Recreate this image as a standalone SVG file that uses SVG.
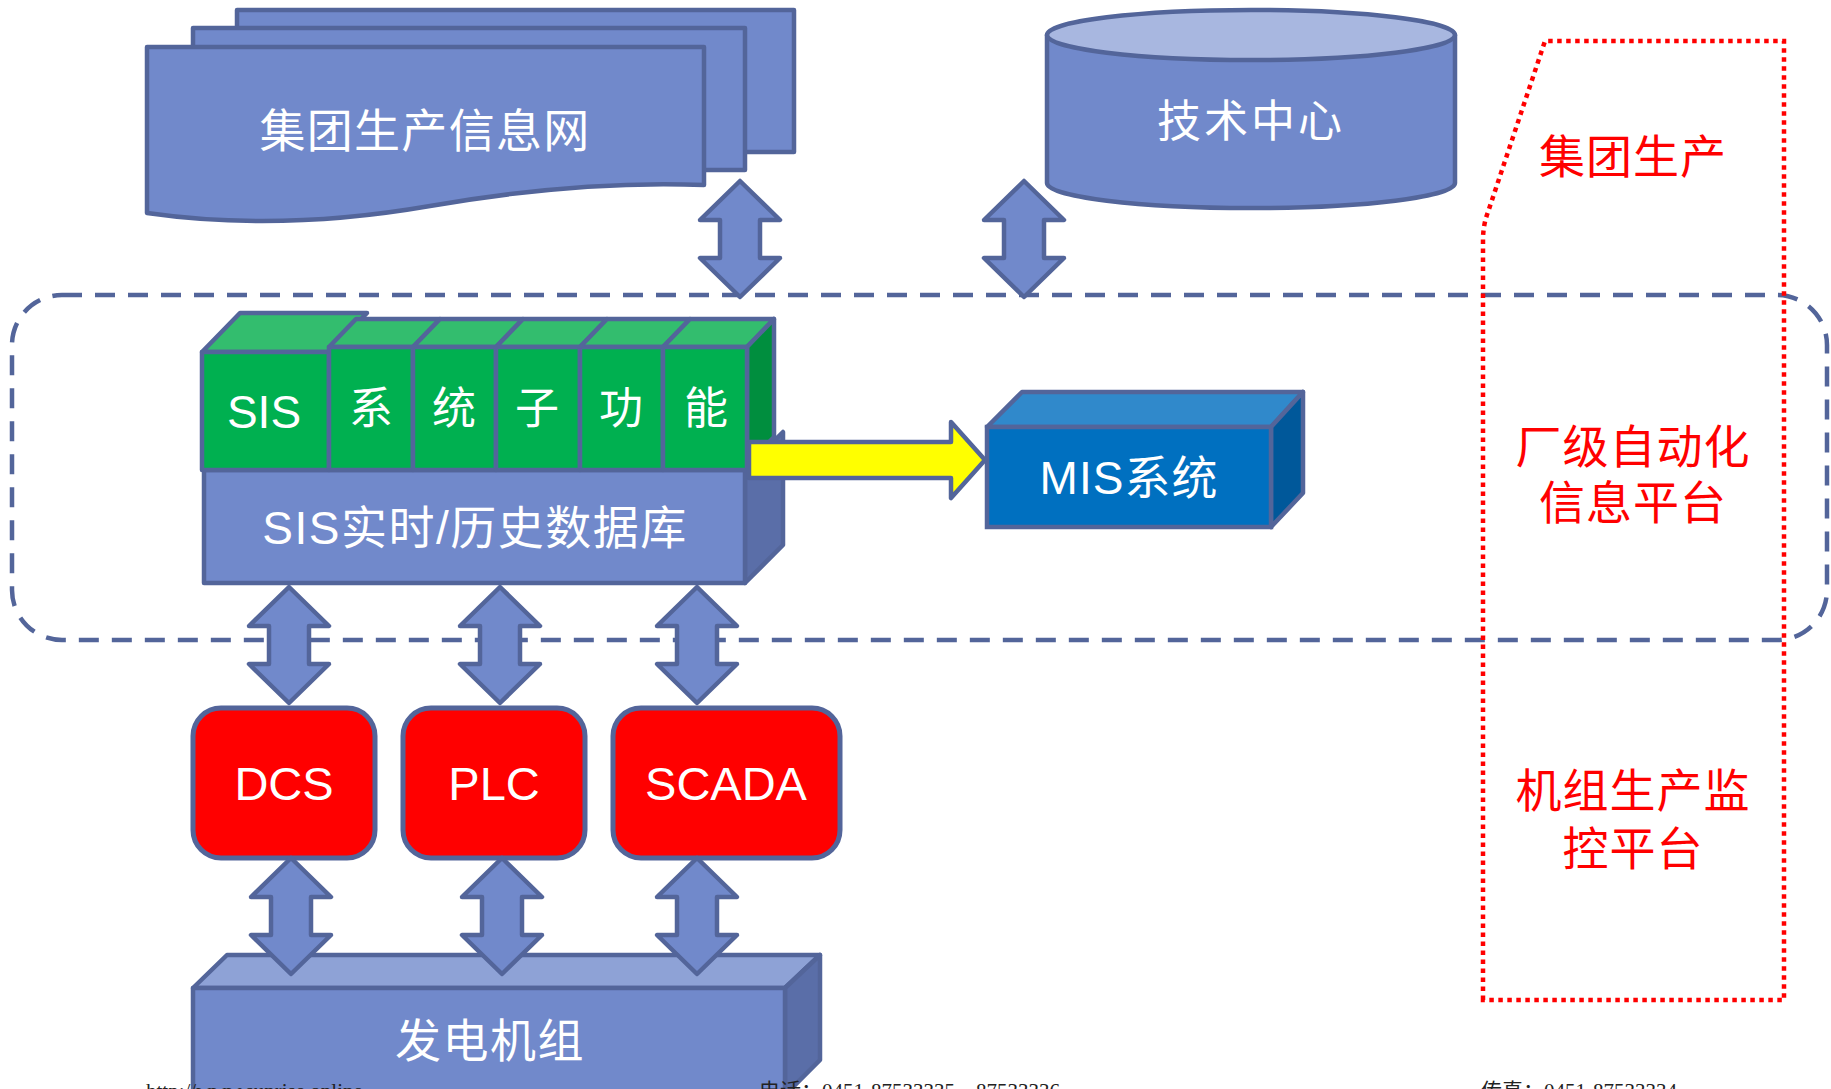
<svg xmlns="http://www.w3.org/2000/svg" width="1831" height="1089" viewBox="0 0 1831 1089">
<style>
.b{fill:#7189CB;stroke:#53659A;stroke-width:4.5;stroke-linejoin:round}
.bt{fill:#8EA2D6;stroke:#53659A;stroke-width:4.5;stroke-linejoin:round}
.bd{fill:#5A6EA8;stroke:#53659A;stroke-width:4.5;stroke-linejoin:round}
.g{fill:#00B050;stroke:#53659A;stroke-width:4.5;stroke-linejoin:round}
.gt{fill:#33BD6E;stroke:#53659A;stroke-width:4.5;stroke-linejoin:round}
.gd{fill:#008E3E;stroke:#53659A;stroke-width:4.5;stroke-linejoin:round}
.r{fill:#FF0000;stroke:#53659A;stroke-width:5}
.w{fill:#FFFFFF;font-family:"Liberation Sans","Noto Sans CJK SC",sans-serif;text-anchor:middle}
.rt{fill:#FF0000;font-family:"Liberation Sans","Noto Sans CJK SC",sans-serif;font-size:46px;text-anchor:middle;letter-spacing:1px}
.f{fill:#222;font-family:"Liberation Serif","Noto Sans CJK SC",serif;font-size:21px}
</style>
<defs>
<path id="dbl" d="M0,0 L40,39 L20,39 L20,77 L40,77 L0,116 L-40,77 L-20,77 L-20,39 L-40,39 Z"/>
</defs>
<rect width="1831" height="1089" fill="#FFFFFF"/>

<g id="plant-frame">
<rect x="12" y="295" width="1815" height="345" rx="50" ry="50" fill="none" stroke="#53659A" stroke-width="4.5" stroke-dasharray="20 13"/>
</g>

<g id="group-info-net">
<rect class="b" x="237" y="10" width="557" height="142"/>
<rect class="b" x="193" y="28" width="552" height="142"/>
<path class="b" d="M147,47 H704 V185 Q580,180 430,206 Q280,232 147,213 Z"/>
<text class="w" x="425" y="147" font-size="46" letter-spacing="1.3">集团生产信息网</text>
</g>

<g id="tech-center">
<path class="b" d="M1047,35 V183 A204,25 0 0 0 1455,183 V35 Z"/>
<ellipse cx="1251" cy="35" rx="204" ry="25" fill="#A8B7E0" stroke="#53659A" stroke-width="4.5"/>
<text class="w" x="1251" y="137" font-size="44" letter-spacing="3">技术中心</text>
</g>

<g id="sis-db">
<polygon class="bd" points="745,470 783,432 783,545 745,583"/>
<rect class="b" x="204" y="470" width="541" height="113"/>
<text class="w" x="475" y="544" font-size="46" letter-spacing="1.5">SIS实时/历史数据库</text>
</g>

<g id="sis-modules">
<polygon class="gt" points="202,352 240,313 367,313 329,352"/>
<rect class="g" x="202" y="352" width="127" height="118"/>
<polygon class="gt" points="329,347 356,319 440,319 413,347"/>
<polygon class="gt" points="413,347 440,319 523,319 496,347"/>
<polygon class="gt" points="496,347 523,319 607,319 580,347"/>
<polygon class="gt" points="580,347 607,319 690,319 663,347"/>
<polygon class="gt" points="663,347 690,319 774,319 747,347"/>
<polygon class="gd" points="747,347 774,319 774,437 747,465"/>
<rect class="g" x="329" y="347" width="84" height="123"/>
<rect class="g" x="413" y="347" width="83" height="123"/>
<rect class="g" x="496" y="347" width="84" height="123"/>
<rect class="g" x="580" y="347" width="83" height="123"/>
<rect class="g" x="663" y="347" width="84" height="123"/>
<text class="w" x="264" y="428" font-size="46">SIS</text>
<text class="w" x="371" y="424" font-size="44">系</text>
<text class="w" x="454" y="424" font-size="44">统</text>
<text class="w" x="537" y="424" font-size="44">子</text>
<text class="w" x="621" y="424" font-size="44">功</text>
<text class="w" x="706" y="424" font-size="44">能</text>
</g>

<g id="mis">
<polygon points="987,427 1022,392 1303,392 1271,427" fill="#3089CB" stroke="#53659A" stroke-width="4.5" stroke-linejoin="round"/>
<polygon points="1271,427 1303,392 1303,493 1271,527" fill="#00589A" stroke="#53659A" stroke-width="4.5" stroke-linejoin="round"/>
<rect x="987" y="427" width="284" height="100" fill="#0070C0" stroke="#53659A" stroke-width="4.5"/>
<text class="w" x="1129" y="494" font-size="46" letter-spacing="1">MIS系统</text>
</g>

<g id="dcs">
<rect class="r" x="193" y="708" width="182" height="150" rx="28" ry="28"/>
<text class="w" x="284" y="800" font-size="47">DCS</text>
</g>
<g id="plc">
<rect class="r" x="403" y="708" width="182" height="150" rx="28" ry="28"/>
<text class="w" x="494" y="800" font-size="47">PLC</text>
</g>
<g id="scada">
<rect class="r" x="613" y="708" width="227" height="150" rx="28" ry="28"/>
<text class="w" x="726" y="800" font-size="47">SCADA</text>
</g>

<g id="generator">
<polygon class="bt" points="193,988 227,955 820,955 785,988"/>
<polygon class="bd" points="785,988 820,955 820,1060 785,1095"/>
<rect class="b" x="193" y="988" width="592" height="130"/>
<text class="w" x="490" y="1057" font-size="46" letter-spacing="1.5">发电机组</text>
</g>

<g id="connectors">
<use href="#dbl" class="b" x="740" y="181"/>
<use href="#dbl" class="b" x="1024" y="181"/>
<use href="#dbl" class="b" x="289" y="587"/>
<use href="#dbl" class="b" x="500" y="587"/>
<use href="#dbl" class="b" x="697" y="587"/>
<use href="#dbl" class="b" x="291" y="858"/>
<use href="#dbl" class="b" x="502" y="858"/>
<use href="#dbl" class="b" x="697" y="858"/>
<path d="M749,442 H951 V422 L985,460 L951,498 V478 H749 Z" fill="#FFFF00" stroke="#53659A" stroke-width="4.5" stroke-linejoin="round"/>
</g>

<g id="levels">
<path d="M1483,1000 V240 Q1483,225 1488,212 L1545,41 H1784 V1000 Z" fill="none" stroke="#FF0000" stroke-width="4.5" stroke-dasharray="4.5 4.5"/>
<text class="rt" x="1633" y="173">集团生产</text>
<text class="rt" x="1633" y="463">厂级自动化</text>
<text class="rt" x="1633" y="519">信息平台</text>
<text class="rt" x="1633" y="807">机组生产监</text>
<text class="rt" x="1633" y="865">控平台</text>
</g>

<g id="footer">
<text class="f" x="146" y="1098">http://www.sunrise.online</text>
<text class="f" x="759" y="1098">电话：0451-87533335、87533336</text>
<text class="f" x="1481" y="1098">传真：0451-87533334</text>
</g>
</svg>
